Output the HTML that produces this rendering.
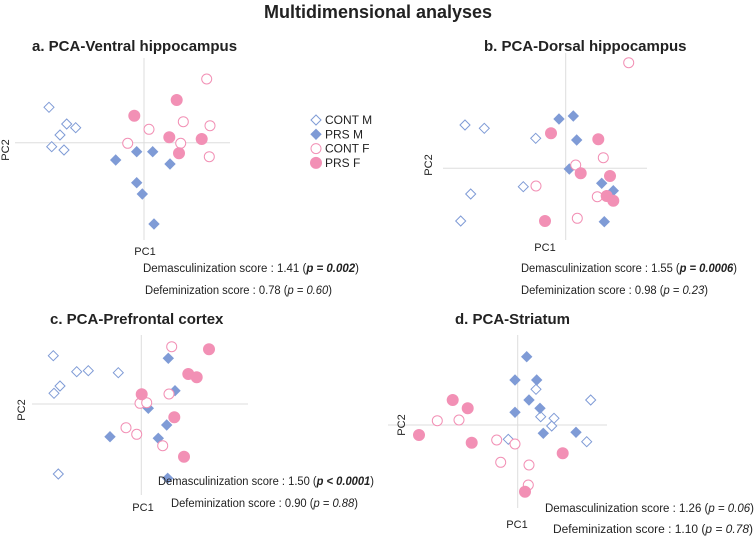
<!DOCTYPE html>
<html><head><meta charset="utf-8"><style>
body{margin:0;background:#fff;font-family:"Liberation Sans",sans-serif;}
svg{display:block}
text{font-family:"Liberation Sans",sans-serif;fill:#222}
</style></head><body>
<svg id="chart" width="756" height="537">
<text x="378" y="18" text-anchor="middle" font-size="18" font-weight="bold">Multidimensional analyses</text>
<g id="legend"></g>
</svg>
<script>
// data: [PC1, PC2] per group, per panel
const aContM=[[-95,35.4],[-77.3,18.7],[-68.3,15],[-84,7.7],[-92.3,-4],[-80,-7.3]];
const aPrsM=[[-28.3,-17.3],[-7.3,-9],[8.7,-9],[26,-21.3],[-7.3,-40],[-1.7,-51.3],[10,-81.3]];
const aContF=[[62.7,63.7],[39.3,21],[66,17],[5,13.4],[-16.3,-0.6],[36.7,-0.6],[65.3,-14]];
const aPrsF=[[32.7,42.7],[-9.7,27],[25.3,5.4],[57.7,3.7],[35,-10.6]];
const bContM=[[-100.7,43.3],[-81.4,40],[-30,30],[-42.4,-18.4],[-95,-25.7],[-105,-52.7]];
const bPrsM=[[-6.7,49.3],[7.6,52.3],[11,28.3],[3.6,-0.7],[36,-15],[47.6,-22.4],[38.6,-53.4]];
const bContF=[[63,105.6],[37.6,10.6],[10,3.3],[-29.7,-17.7],[31.6,-28.4],[11.6,-50]];
const bPrsF=[[-14.7,35],[32.6,29],[15,-5],[44.3,-7.7],[41,-27.7],[47.6,-32.4],[-20.7,-52.7]];
const cContM=[[-88,48.3],[-64.6,32.3],[-53,33.3],[-23,31.3],[-81.3,18],[-87.3,10.7],[-83,-70]];
const cPrsM=[[27,45.7],[33.7,13.3],[7,-4.3],[25.4,-21],[17,-34.3],[-31.3,-32.7],[26.4,-74.3]];
const cContF=[[30.4,57.3],[27.7,10],[-1.3,0.7],[5.4,1.3],[-15.3,-23.7],[-4.6,-30.3],[21.4,-41.7]];
const cPrsF=[[67.7,54.7],[47,30],[55.4,26.7],[0.4,9.7],[33,-13.3],[42.7,-52.7]];
const dContM=[[18.3,35.7],[73,25],[23,8.3],[36.3,6.7],[34,-1],[-9.4,-14.3],[69,-16.7]];
const dPrsM=[[9,68.3],[-2.7,45],[19,45],[11.3,25],[22.3,16.7],[-2.7,12.7],[25.6,-8.3],[58.3,-7.3]];
const dContF=[[-80.4,4.3],[-58.7,5],[-21,-15],[-2.7,-19],[-17,-37.3],[11.3,-40],[10.6,-60]];
const dPrsF=[[-65,25],[-50,16.7],[-98.7,-10],[-46,-17.7],[45,-28.3],[7.3,-66.7]];
const groupNames=["CONT M","PRS M","CONT F","PRS F"];

const NS="http://www.w3.org/2000/svg";
const svg=document.getElementById('chart');
const BLUE="#7f9bd6",PINK="#f290b5";
function mk(tag,attrs,parent){const e=document.createElementNS(NS,tag);for(const k in attrs)e.setAttribute(k,attrs[k]);(parent||svg).appendChild(e);return e;}
function marker(g,type,x,y){
  let e;
  if(type<2){const s=5;e=mk('polygon',{points:`${x},${y-s} ${x+s},${y} ${x},${y+s} ${x-s},${y}`,fill:type==1?BLUE:'#fff',stroke:BLUE,'stroke-width':1},g);}
  else{e=mk('circle',{cx:x,cy:y,r:type==3?5.5:5,fill:type==3?PINK:'#fff',stroke:PINK,'stroke-width':1},g);}
  return e;
}
const panels=[
 {id:'a',title:'a. PCA-Ventral hippocampus',tx:32,ty:51,ox:144,oy:142.7,x0:15,x1:230,y0:58,y1:240,pc2:[9,150],pc1:[145,255],
  l1:[143,272,'1.41','p = 0.002',true],l2:[145,294,'0.78','p = 0.60'],w:[216,187],data:[aContM,aPrsM,aContF,aPrsF]},
 {id:'b',title:'b. PCA-Dorsal hippocampus',tx:484,ty:51,ox:565.7,oy:168.3,x0:443,x1:647,y0:53,y1:240,pc2:[432,165],pc1:[545,251],
  l1:[521,272,'1.55','p = 0.0006',true],l2:[521,294,'0.98','p = 0.23'],w:[216,187],data:[bContM,bPrsM,bContF,bPrsF]},
 {id:'c',title:'c. PCA-Prefrontal cortex',tx:50,ty:324,ox:141.3,oy:404,x0:32,x1:248,y0:335,y1:495,pc2:[25,410],pc1:[143,511],
  l1:[158,485,'1.50','p < 0.0001',true],l2:[171,507,'0.90','p = 0.88'],w:[216,187],data:[cContM,cPrsM,cContF,cPrsF]},
 {id:'d',title:'d. PCA-Striatum',tx:455,ty:324,ox:517.7,oy:425,x0:388,x1:607,y0:335,y1:508,pc2:[405,425],pc1:[517,528],
  l1:[545,512,'1.26','p = 0.06',false],l2:[553,533,'1.10','p = 0.78'],w:[209,200],data:[dContM,dPrsM,dContF,dPrsF]}
];
panels.forEach(p=>{
  const g=mk('g',{});
  
  
  const t=mk('text',{x:p.tx,y:p.ty,'font-size':15,'font-weight':'bold'},g);t.textContent=p.title;
  
  
  const xs=v=>p.ox+v, ys=v=>p.oy-v;
  const hx=mk('line',{x1:p.x0,x2:p.x1,y1:p.oy,y2:p.oy,stroke:'#ddd','stroke-width':1},g);
  
  
  const vy=mk('line',{x1:p.ox,x2:p.ox,y1:p.y0,y2:p.y1,stroke:'#ddd','stroke-width':1},g);
  
  
  const a2=mk('text',{x:p.pc2[0],y:p.pc2[1],'font-size':11,'text-anchor':'middle',transform:`rotate(-90 ${p.pc2[0]} ${p.pc2[1]})`},g);a2.textContent='PC2';
  
  
  const a1=mk('text',{x:p.pc1[0],y:p.pc1[1],'font-size':11,'text-anchor':'middle'},g);a1.textContent='PC1';
  
  
  p.data.forEach((arr,gi)=>arr.forEach(pt=>{
    const m=marker(g,gi,xs(pt[0]),ys(pt[1]));
    
    
  }));
  const s1=mk('text',{x:p.l1[0],y:p.l1[1],'font-size':11.5,textLength:p.w[0],lengthAdjust:'spacingAndGlyphs'},g);
  s1.innerHTML=`Demasculinization score : ${p.l1[2]} (<tspan font-style="italic"${p.l1[4]?' font-weight="bold"':''}>${p.l1[3]}</tspan>)`;
  
  
  const s2=mk('text',{x:p.l2[0],y:p.l2[1],'font-size':11.5,textLength:p.w[1],lengthAdjust:'spacingAndGlyphs'},g);
  s2.innerHTML=`Defeminization score : ${p.l2[2]} (<tspan font-style="italic">${p.l2[3]}</tspan>)`;
  
  
});
const lg=document.getElementById('legend');
groupNames.forEach((n,i)=>{
  const y=120+i*14.3;
  const m=marker(lg,i,316,y);
  
  
  const t=mk('text',{x:325,y:y+4,'font-size':12},lg);t.textContent=n;
  
  
});
</script>
</body></html>
